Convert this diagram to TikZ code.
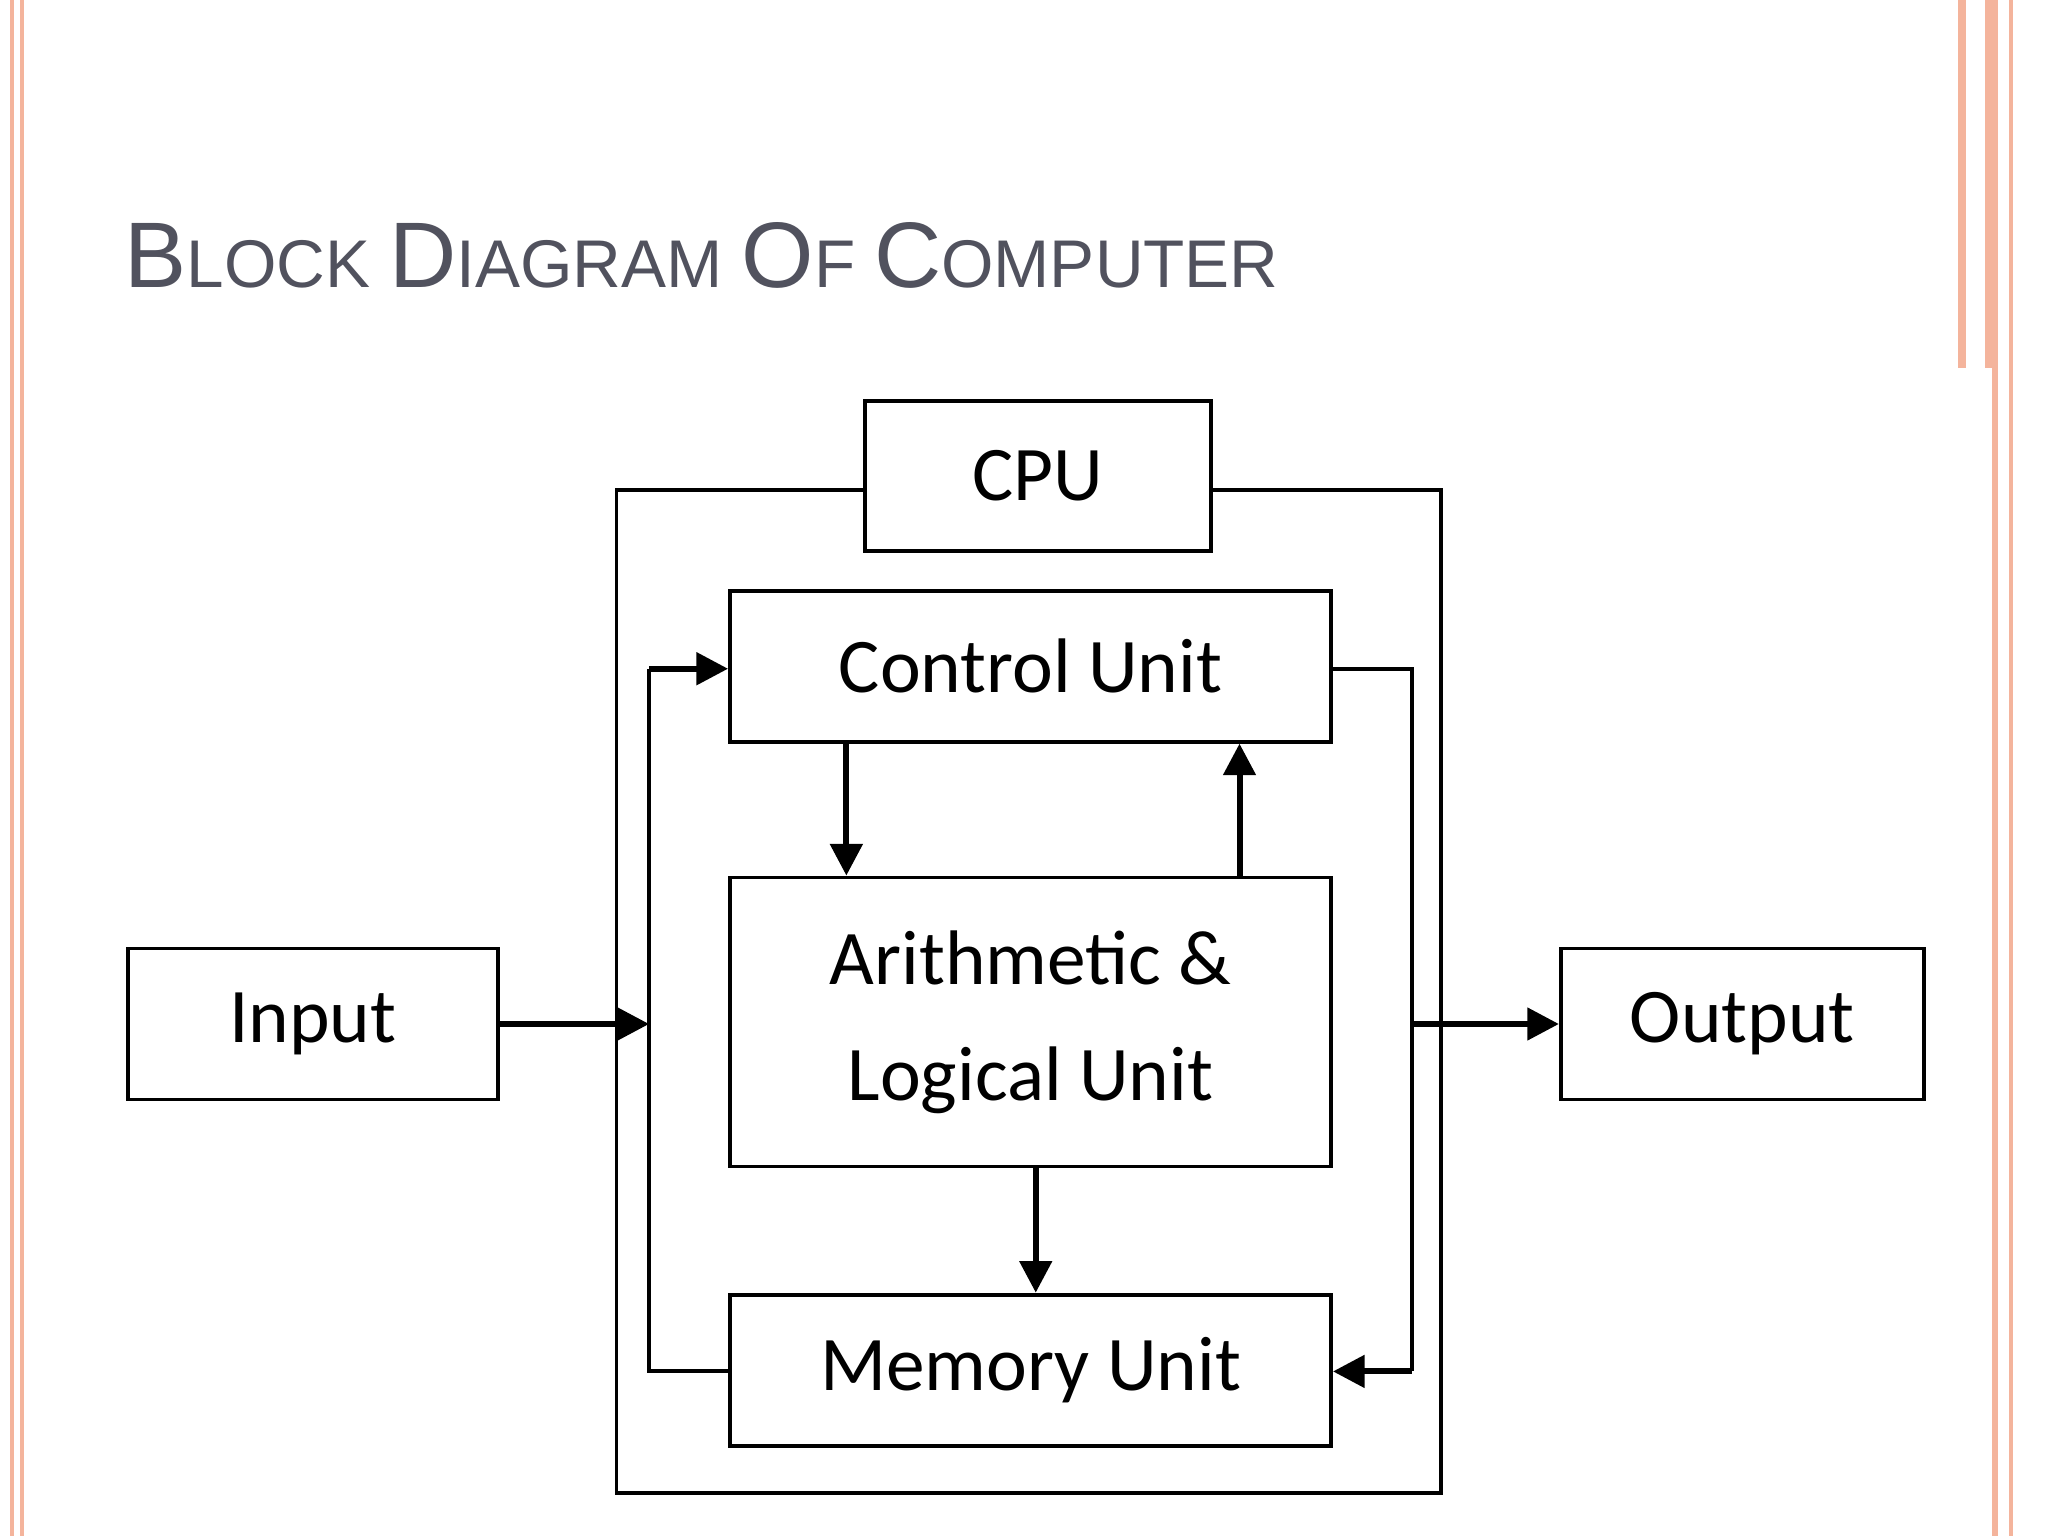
\documentclass[tikz,border=0pt]{standalone}
\usepackage{fontspec}
\setmainfont{Liberation Sans}
\newfontfamily\boxfont{Carlito}
\usetikzlibrary{arrows.meta}
\definecolor{peach}{HTML}{F4B49C}
\definecolor{titlegray}{HTML}{51525E}
\tikzset{
  blk/.style={draw=black, line width=1.1pt, fill=white, inner sep=0pt,
    font=\boxfont\fontsize{22}{27}\selectfont},
  wire/.style={line width=1.1pt},
  flow/.style={line width=1.7pt, -{Triangle[length=9pt,width=9pt]}}
}
\begin{document}
\begin{tikzpicture}[x=0.013061cm, y=-0.013061cm]
\useasboundingbox (0,0) rectangle (1568,1176);
% slide frame
\fill[peach] (8,0) rectangle (11,1176);
\fill[peach] (15,0) rectangle (18,1176);
\fill[peach] (1499,0) rectangle (1530,282);
\fill[white] (1505,0) rectangle (1520,282);
\fill[peach] (1525,0) rectangle (1530,1176);
\fill[peach] (1538,0) rectangle (1541,1176);
% title
\node[anchor=base west, text=titlegray, inner sep=0pt] (title) at (95,220)
  {\fontsize{26.5}{30}\selectfont B\fontsize{19.2}{22}\selectfont LOCK
   \fontsize{26.5}{30}\selectfont D\fontsize{19.2}{22}\selectfont IAGRAM
   \fontsize{26.5}{30}\selectfont O\fontsize{19.2}{22}\selectfont F
   \fontsize{26.5}{30}\selectfont C\fontsize{19.2}{22}\selectfont OMPUTER};
% outer CPU frame
\draw[wire] (472,375) rectangle (1103,1143);
% blocks
\node[blk, minimum width=3.46cm, minimum height=1.50cm] (cpu) at (794.5,364.5) {CPU};
\node[blk, minimum width=6.01cm, minimum height=1.51cm] (cu) at (789,510) {Control Unit};
\node[blk, minimum width=6.01cm, minimum height=2.89cm, align=center] (alu) at (789,782.5)
  {Arithmetic \&\\[6pt] Logical Unit};
\node[blk, minimum width=6.01cm, minimum height=1.51cm] (mem) at (789,1049) {Memory Unit};
\node[blk, minimum width=3.70cm, minimum height=1.51cm] (in) at (239.5,784) {Input};
\node[blk, minimum width=3.63cm, minimum height=1.51cm] (out) at (1334,784) {Output};
% bus points
\coordinate (lt) at (497,512);
\coordinate (lm) at (497,784);
\coordinate (lb) at (497,1050);
\coordinate (rt) at (1081,512);
\coordinate (rm) at (1081,784);
\coordinate (rb) at (1081,1050);
% connectors
\draw[flow] (in.east |- lm) -- (lm);
\draw[wire] (mem.west |- lb) -- (lb) -- (lt);
\draw[flow] (lt) -- (cu.west |- lt);
\draw[flow] (cu.south -| 648,0) -- (alu.north -| 648,0);
\draw[flow] (alu.north -| 949,0) -- (cu.south -| 949,0);
\draw[flow] (alu.south -| 793,0) -- (mem.north -| 793,0);
\draw[wire] (cu.east |- rt) -- (rt) -- (rb);
\draw[flow] (rb) -- (mem.east |- rb);
\draw[flow] (rm) -- (out.west |- rm);
\end{tikzpicture}
\end{document}
